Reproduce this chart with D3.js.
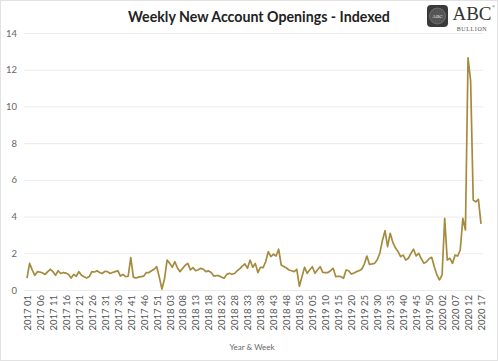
<!DOCTYPE html>
<html>
<head>
<meta charset="utf-8">
<script src="https://cdn.jsdelivr.net/npm/d3@7"></script>
<style>
  html, body { margin: 0; padding: 0; background: #fff; }
  svg { display: block; font-family: Lato, "Open Sans", sans-serif; }
</style>
</head>
<body>
<svg id="chart" width="498" height="361"></svg>
<script>
// ---- data ----
const years = [2017, 2018, 2019, 2020];
const weeksInYear = [53, 53, 53, 17];
const values = [
  0.65, 1.45, 1.1, 0.8, 1.0, 0.98, 0.93, 0.85, 1.0, 1.13,
  1.0, 0.8, 1.05, 0.9, 0.95, 0.92, 0.85, 0.65, 0.85, 0.75,
  1.0, 0.8, 0.72, 0.65, 0.73, 1.0, 0.98, 1.05, 0.95, 0.9,
  1.02, 1.0, 0.9, 0.95, 1.0, 1.05, 0.76, 0.85, 0.73, 0.75,
  1.76, 0.7, 0.65, 0.7, 0.73, 0.76, 0.95, 0.95, 1.05, 1.13,
  1.27, 0.7, 0.05, 0.6, 1.63, 1.45, 1.24, 1.54, 1.2, 1.0,
  1.18, 1.35, 1.45, 1.09, 1.22, 1.05, 1.1, 1.18, 1.13, 1.0,
  1.04, 0.95, 0.76, 0.78, 0.78, 0.7, 0.64, 0.85, 0.91, 0.86,
  0.9, 1.05, 1.15, 1.3, 1.42, 1.18, 1.63, 1.24, 1.45, 0.95,
  1.24, 1.22, 1.54, 2.09, 1.82, 1.95, 1.85, 2.22, 1.36, 1.28,
  1.2, 1.09, 1.05, 1.0, 1.13, 0.2, 0.73, 1.24, 0.91, 1.1,
  1.27, 0.91, 1.1, 1.27, 0.96, 0.95, 0.95, 1.05, 1.18, 0.73,
  0.75, 0.73, 0.64, 1.09, 1.05, 0.87, 0.92, 1.0, 1.05, 1.13,
  1.4, 1.85, 1.4, 1.42, 1.45, 1.65, 2.0, 2.7, 3.23, 2.36,
  3.09, 2.6, 2.3, 2.1, 1.82, 1.9, 1.63, 1.73, 2.0, 2.22,
  1.85, 2.0, 1.7, 1.45, 1.54, 1.7, 1.78, 1.27, 0.82, 0.55,
  0.82, 3.9, 1.63, 1.73, 1.45, 1.9, 1.85, 2.18, 3.9, 3.27,
  12.64, 11.4, 4.9, 4.8, 4.94, 3.6
];
const tickLabels = [
  "2017 01","2017 06","2017 11","2017 16","2017 21","2017 26","2017 31","2017 36",
  "2017 41","2017 46","2017 51","2018 03","2018 08","2018 13","2018 18","2018 23",
  "2018 28","2018 33","2018 38","2018 43","2018 48","2018 53","2019 05","2019 10",
  "2019 15","2019 20","2019 25","2019 30","2019 35","2019 40","2019 45","2019 50",
  "2020 02","2020 07","2020 12","2020 17"
];
const yTicks = [0, 2, 4, 6, 8, 10, 12, 14];

const categories = [];
years.forEach((y, k) => {
  for (let w = 1; w <= weeksInYear[k]; w++) categories.push(y + " " + String(w).padStart(2, "0"));
});
const data = categories.map((c, i) => ({ c, v: values[i] }));

// ---- chart ----
const svg = d3.select("#chart");
const W = 498, H = 361;

svg.append("rect").attr("x", 0.5).attr("y", 0.5).attr("width", W - 1).attr("height", H - 1)
  .attr("fill", "#fff").attr("stroke", "#e2e2e2");

const x = d3.scalePoint().domain(categories).range([27, 481]);
const y = d3.scaleLinear().domain([0, 14]).range([290, 33]);

// gridlines
svg.append("g").selectAll("line").data(yTicks).join("line")
  .attr("x1", 24).attr("x2", 483)
  .attr("y1", d => y(d) + 0.5).attr("y2", d => y(d) + 0.5)
  .attr("stroke", "#ebebeb").attr("stroke-width", 1);

// y axis labels
const yAxis = svg.append("g").attr("transform", "translate(17,0)")
  .call(d3.axisLeft(y).tickValues(yTicks).tickSize(0).tickPadding(0).tickFormat(d3.format("d")));
yAxis.select(".domain").remove();
yAxis.selectAll("text").attr("fill", "#666").style("font-size", "9.5px")
  .style("font-family", "Lato, sans-serif");

// x axis labels
const xAxis = svg.append("g").attr("transform", "translate(0,290)")
  .call(d3.axisBottom(x).tickValues(tickLabels).tickSize(0));
xAxis.select(".domain").remove();
xAxis.selectAll("text")
  .attr("transform", "rotate(-90)")
  .attr("x", -5).attr("y", 0).attr("dy", "0.35em")
  .attr("text-anchor", "end")
  .attr("fill", "#555").style("font-size", "9.5px")
  .style("font-family", "Lato, sans-serif");

// line
const line = d3.line().x(d => x(d.c)).y(d => y(d.v));
svg.append("path").datum(data)
  .attr("d", line).attr("fill", "none")
  .attr("stroke", "#a68a3e").attr("stroke-width", 1.7)
  .attr("stroke-linejoin", "round");

// title
svg.append("text").attr("x", 259).attr("y", 22).attr("text-anchor", "middle")
  .style("font-family", "Lato, sans-serif").style("font-weight", "bold").style("font-size", "14.2px")
  .attr("fill", "#222").text("Weekly New Account Openings - Indexed");

// axis title
svg.append("text").attr("x", 252).attr("y", 350).attr("text-anchor", "middle")
  .style("font-family", "Lato, sans-serif").style("font-size", "8px")
  .attr("fill", "#666").text("Year & Week");

// logo
const logo = svg.append("g");
logo.append("rect").attr("x", 427).attr("y", 5).attr("width", 21).attr("height", 22).attr("rx", 4)
  .attr("fill", "#3a3a3a");
logo.append("circle").attr("cx", 437.5).attr("cy", 16).attr("r", 8)
  .attr("fill", "#555").attr("stroke", "#888").attr("stroke-width", 0.6);
logo.append("text").attr("x", 437.5).attr("y", 18).attr("text-anchor", "middle")
  .style("font-family", "'Liberation Serif', serif").style("font-size", "5px").attr("fill", "#eee").text("ABC");
logo.append("text").attr("x", 472).attr("y", 20).attr("text-anchor", "middle")
  .style("font-family", "'Liberation Serif', serif").style("font-size", "19px")
  .attr("fill", "#333").text("ABC");
logo.append("text").attr("x", 492).attr("y", 8)
  .style("font-family", "'Liberation Serif', serif").style("font-size", "4px")
  .attr("fill", "#333").text("®");
logo.append("text").attr("x", 472).attr("y", 31).attr("text-anchor", "middle")
  .style("font-family", "'Liberation Serif', serif").style("font-size", "6px")
  .style("letter-spacing", "0.6px").attr("fill", "#555").text("BULLION");
</script>
</body>
</html>
